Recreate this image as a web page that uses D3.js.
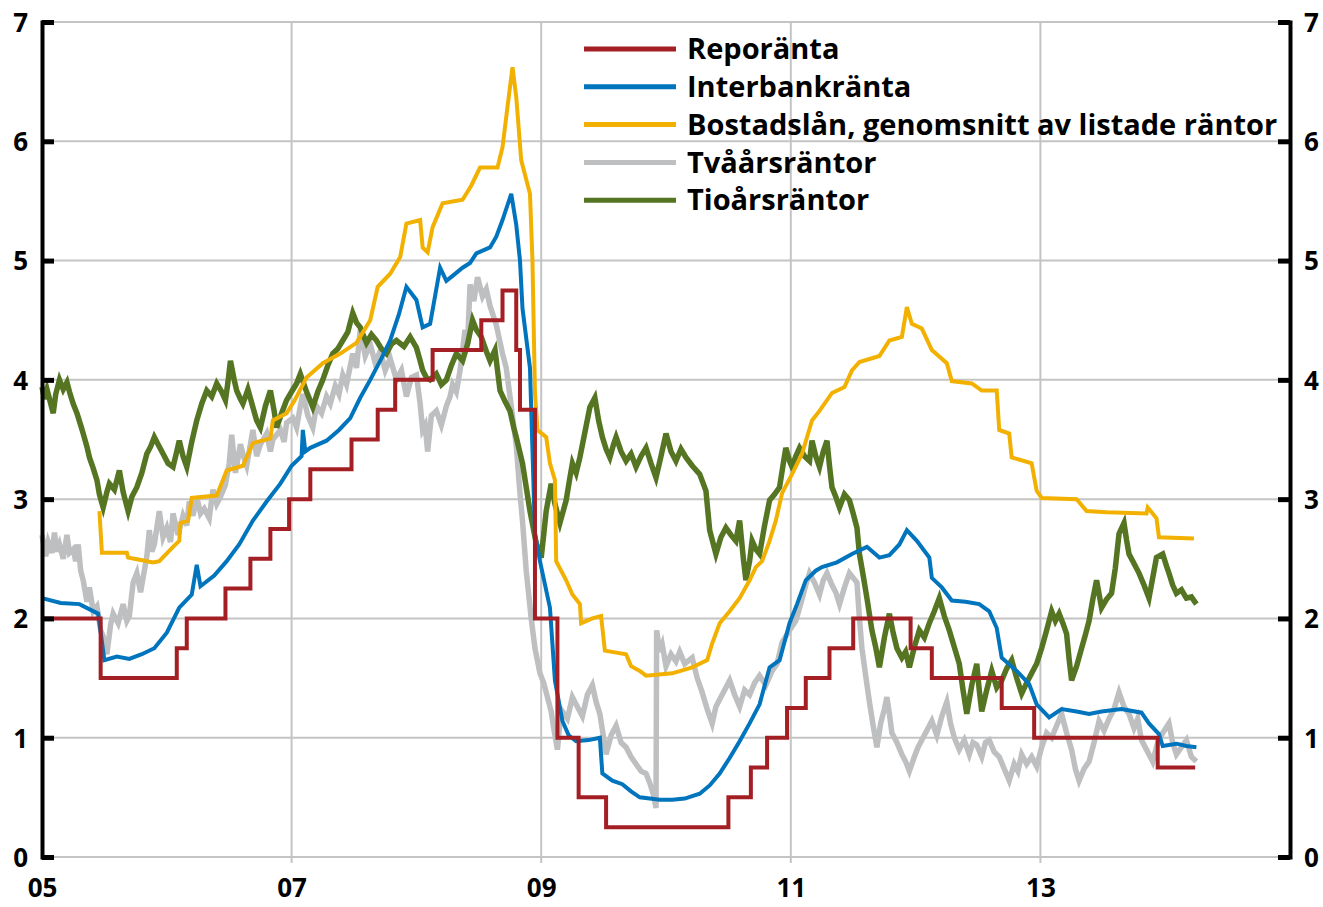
<!DOCTYPE html>
<html>
<head>
<meta charset="utf-8">
<script src="https://cdn.jsdelivr.net/npm/d3@7"></script>
<style>
  body { margin: 0; background: #fff; }
  svg text { font-family: "Open Sans", Lato, sans-serif; font-weight: 700; fill: #000; }
</style>
</head>
<body>
<div id="chart"></div>
<script>
// Series names (legend order)
const seriesNames = ['Reporänta', 'Interbankränta', 'Bostadslån, genomsnitt av listade räntor', 'Tvåårsräntor', 'Tioårsräntor'];
const seriesColors = ['#a41f24', '#0074bc', '#f2b100', '#bebfc1', '#557522'];

const yTicks = [0, 1, 2, 3, 4, 5, 6, 7];
const xTicks = [2005, 2007, 2009, 2011, 2013];

// Reporänta, step changes [decimal year, %]
const repo = [
  [2005.00, 2.00], [2005.47, 1.50], [2006.08, 1.75], [2006.16, 2.00], [2006.47, 2.25],
  [2006.67, 2.50], [2006.83, 2.75], [2006.98, 3.00], [2007.15, 3.25], [2007.48, 3.50],
  [2007.69, 3.75], [2007.83, 4.00], [2008.13, 4.25], [2008.52, 4.50], [2008.69, 4.75],
  [2008.80, 4.25], [2008.83, 3.75], [2008.95, 2.00], [2009.13, 1.00], [2009.30, 0.50],
  [2009.52, 0.25], [2010.50, 0.50], [2010.68, 0.75], [2010.81, 1.00], [2010.97, 1.25],
  [2011.12, 1.50], [2011.31, 1.75], [2011.50, 2.00], [2011.96, 1.75], [2012.13, 1.50],
  [2012.69, 1.25], [2012.95, 1.00], [2013.94, 0.75], [2014.24, 0.75]
];

// Interbankränta
const interbank = [
  [2005.00, 2.17], [2005.15, 2.13], [2005.30, 2.12], [2005.45, 2.04], [2005.50, 1.65],
  [2005.60, 1.68], [2005.70, 1.66], [2005.80, 1.70], [2005.90, 1.75], [2006.00, 1.88],
  [2006.10, 2.09], [2006.20, 2.20], [2006.24, 2.45], [2006.27, 2.27], [2006.38, 2.36],
  [2006.48, 2.48], [2006.58, 2.62], [2006.69, 2.82], [2006.80, 2.98], [2006.91, 3.13],
  [2007.00, 3.28], [2007.08, 3.36], [2007.09, 3.58], [2007.11, 3.40], [2007.15, 3.43],
  [2007.28, 3.49], [2007.38, 3.58], [2007.47, 3.68], [2007.55, 3.85], [2007.63, 4.00],
  [2007.72, 4.18], [2007.79, 4.33], [2007.86, 4.55], [2007.92, 4.78], [2008.00, 4.67],
  [2008.05, 4.44], [2008.11, 4.47], [2008.19, 4.94], [2008.24, 4.83], [2008.30, 4.88],
  [2008.37, 4.94], [2008.43, 4.98], [2008.48, 5.06], [2008.59, 5.11], [2008.64, 5.20],
  [2008.69, 5.34], [2008.76, 5.56], [2008.80, 5.30], [2008.83, 5.00], [2008.85, 4.60],
  [2008.91, 4.10], [2008.93, 3.41], [2008.95, 2.71], [2008.99, 2.48], [2009.07, 2.09],
  [2009.11, 1.48], [2009.17, 1.14], [2009.22, 1.02], [2009.28, 0.97], [2009.38, 0.98],
  [2009.47, 1.00], [2009.49, 0.70], [2009.57, 0.64], [2009.65, 0.61], [2009.72, 0.55],
  [2009.79, 0.50], [2009.87, 0.49], [2009.95, 0.48], [2010.05, 0.48], [2010.15, 0.49],
  [2010.27, 0.53], [2010.35, 0.60], [2010.43, 0.70], [2010.51, 0.83], [2010.59, 0.97],
  [2010.67, 1.12], [2010.75, 1.28], [2010.83, 1.59], [2010.91, 1.65], [2010.99, 1.96],
  [2011.05, 2.12], [2011.12, 2.32], [2011.20, 2.40], [2011.25, 2.43], [2011.37, 2.47],
  [2011.49, 2.54], [2011.61, 2.60], [2011.71, 2.51], [2011.79, 2.53], [2011.87, 2.62],
  [2011.93, 2.74], [2012.01, 2.65], [2012.11, 2.51], [2012.13, 2.34], [2012.21, 2.26],
  [2012.29, 2.15], [2012.40, 2.14], [2012.51, 2.12], [2012.59, 2.06], [2012.65, 1.92],
  [2012.69, 1.67], [2012.81, 1.56], [2012.91, 1.45], [2012.97, 1.28], [2013.07, 1.17],
  [2013.17, 1.24], [2013.29, 1.22], [2013.39, 1.20], [2013.49, 1.22], [2013.65, 1.24],
  [2013.81, 1.21], [2013.87, 1.12], [2013.95, 1.03], [2013.98, 0.93], [2014.09, 0.95],
  [2014.17, 0.93], [2014.25, 0.92]
];

// Bostadslån, genomsnitt av listade räntor
const bolan = [
  [2005.46, 2.90], [2005.48, 2.55], [2005.68, 2.55], [2005.69, 2.51], [2005.74, 2.50],
  [2005.89, 2.47], [2005.94, 2.48], [2006.05, 2.60], [2006.10, 2.65], [2006.11, 2.80],
  [2006.17, 2.82], [2006.20, 3.01], [2006.40, 3.03], [2006.48, 3.24], [2006.61, 3.28],
  [2006.69, 3.47], [2006.83, 3.51], [2006.85, 3.66], [2006.96, 3.72], [2007.02, 3.82],
  [2007.12, 4.02], [2007.25, 4.14], [2007.39, 4.22], [2007.52, 4.31], [2007.63, 4.50],
  [2007.69, 4.78], [2007.79, 4.89], [2007.87, 5.03], [2007.92, 5.31], [2008.03, 5.34],
  [2008.05, 5.11], [2008.09, 5.07], [2008.13, 5.28], [2008.21, 5.48], [2008.37, 5.51],
  [2008.44, 5.63], [2008.51, 5.78], [2008.65, 5.78], [2008.69, 5.95], [2008.73, 6.29],
  [2008.77, 6.62], [2008.80, 6.37], [2008.84, 5.84], [2008.91, 5.56], [2008.93, 5.00],
  [2008.95, 3.89], [2008.97, 3.58], [2009.04, 3.52], [2009.07, 3.30], [2009.11, 3.16],
  [2009.12, 2.48], [2009.20, 2.32], [2009.25, 2.20], [2009.31, 2.12], [2009.32, 1.96],
  [2009.41, 2.00], [2009.48, 2.02], [2009.51, 1.73], [2009.68, 1.70], [2009.72, 1.60],
  [2009.79, 1.56], [2009.84, 1.52], [2010.05, 1.54], [2010.21, 1.59], [2010.33, 1.65],
  [2010.37, 1.79], [2010.43, 1.96], [2010.51, 2.06], [2010.59, 2.17], [2010.67, 2.32],
  [2010.72, 2.43], [2010.77, 2.48], [2010.83, 2.65], [2010.88, 2.82], [2010.93, 3.05],
  [2011.01, 3.21], [2011.09, 3.38], [2011.17, 3.66], [2011.23, 3.74], [2011.33, 3.89],
  [2011.43, 3.94], [2011.49, 4.08], [2011.55, 4.15], [2011.71, 4.20], [2011.79, 4.33],
  [2011.89, 4.36], [2011.93, 4.61], [2011.97, 4.47], [2012.05, 4.43], [2012.13, 4.25],
  [2012.25, 4.14], [2012.29, 3.99], [2012.45, 3.97], [2012.53, 3.91], [2012.65, 3.91],
  [2012.67, 3.58], [2012.75, 3.55], [2012.77, 3.35], [2012.93, 3.30], [2012.97, 3.07],
  [2013.01, 3.01], [2013.29, 3.00], [2013.37, 2.90], [2013.53, 2.89], [2013.85, 2.88],
  [2013.86, 2.93], [2013.93, 2.84], [2013.95, 2.68], [2014.23, 2.67]
];

// Tvåårsräntor
const tvaar = [
  [2005.00, 2.70], [2005.03, 2.52], [2005.05, 2.64], [2005.08, 2.55], [2005.10, 2.72],
  [2005.12, 2.56], [2005.14, 2.62], [2005.17, 2.50], [2005.20, 2.70], [2005.22, 2.55],
  [2005.25, 2.58], [2005.27, 2.48], [2005.29, 2.62], [2005.31, 2.40], [2005.33, 2.32],
  [2005.36, 2.14], [2005.38, 2.26], [2005.41, 2.06], [2005.44, 2.10], [2005.47, 1.90],
  [2005.49, 1.85], [2005.52, 1.70], [2005.55, 1.95], [2005.57, 2.04], [2005.61, 1.96],
  [2005.65, 2.12], [2005.68, 1.98], [2005.70, 2.02], [2005.73, 2.30], [2005.76, 2.38],
  [2005.79, 2.22], [2005.81, 2.34], [2005.84, 2.52], [2005.86, 2.74], [2005.88, 2.56],
  [2005.90, 2.62], [2005.94, 2.90], [2005.97, 2.68], [2006.00, 2.76], [2006.03, 2.64],
  [2006.05, 2.88], [2006.09, 2.70], [2006.13, 2.86], [2006.16, 2.78], [2006.18, 2.98],
  [2006.21, 2.86], [2006.24, 3.02], [2006.27, 2.88], [2006.30, 2.92], [2006.34, 2.84],
  [2006.37, 3.08], [2006.40, 2.96], [2006.43, 3.02], [2006.47, 3.12], [2006.50, 3.30],
  [2006.52, 3.54], [2006.55, 3.22], [2006.59, 3.46], [2006.62, 3.34], [2006.64, 3.28],
  [2006.69, 3.58], [2006.72, 3.36], [2006.75, 3.46], [2006.80, 3.55], [2006.83, 3.40],
  [2006.85, 3.50], [2006.91, 3.58], [2006.94, 3.48], [2006.96, 3.64], [2007.01, 3.68],
  [2007.04, 3.60], [2007.07, 3.78], [2007.09, 3.88], [2007.13, 3.70], [2007.17, 3.60],
  [2007.20, 3.78], [2007.24, 3.72], [2007.28, 3.86], [2007.31, 3.80], [2007.35, 3.95],
  [2007.38, 3.88], [2007.41, 4.04], [2007.44, 3.96], [2007.49, 4.22], [2007.52, 4.10],
  [2007.55, 4.42], [2007.59, 4.20], [2007.63, 4.30], [2007.67, 4.14], [2007.71, 4.24],
  [2007.75, 4.08], [2007.79, 4.18], [2007.84, 4.00], [2007.88, 4.08], [2007.92, 3.86],
  [2007.96, 4.02], [2008.00, 4.04], [2008.03, 3.80], [2008.05, 3.58], [2008.07, 3.62],
  [2008.09, 3.40], [2008.12, 3.70], [2008.16, 3.74], [2008.20, 3.62], [2008.24, 3.78],
  [2008.27, 3.86], [2008.29, 3.96], [2008.32, 3.90], [2008.35, 4.08], [2008.39, 4.42],
  [2008.41, 4.30], [2008.43, 4.80], [2008.46, 4.66], [2008.49, 4.86], [2008.53, 4.70],
  [2008.56, 4.76], [2008.59, 4.62], [2008.64, 4.46], [2008.69, 4.22], [2008.72, 4.10],
  [2008.75, 3.86], [2008.80, 3.45], [2008.83, 3.05], [2008.85, 2.82], [2008.88, 2.40],
  [2008.92, 2.00], [2008.95, 1.75], [2008.99, 1.54], [2009.02, 1.46], [2009.05, 1.34],
  [2009.08, 1.22], [2009.10, 1.08], [2009.13, 0.90], [2009.15, 1.12], [2009.17, 1.22],
  [2009.21, 1.16], [2009.25, 1.34], [2009.29, 1.26], [2009.33, 1.18], [2009.37, 1.36],
  [2009.41, 1.44], [2009.44, 1.30], [2009.47, 1.20], [2009.50, 1.00], [2009.52, 0.86],
  [2009.56, 1.02], [2009.60, 1.10], [2009.64, 0.96], [2009.68, 0.92], [2009.72, 0.84],
  [2009.76, 0.78], [2009.80, 0.72], [2009.84, 0.70], [2009.87, 0.62], [2009.90, 0.52],
  [2009.92, 0.41], [2009.925, 1.90], [2009.95, 1.72], [2009.97, 1.78], [2010.00, 1.60],
  [2010.04, 1.70], [2010.08, 1.64], [2010.11, 1.72], [2010.15, 1.62], [2010.21, 1.67],
  [2010.25, 1.50], [2010.29, 1.38], [2010.33, 1.24], [2010.37, 1.12], [2010.40, 1.26],
  [2010.43, 1.32], [2010.47, 1.40], [2010.51, 1.48], [2010.55, 1.36], [2010.59, 1.26],
  [2010.63, 1.40], [2010.67, 1.36], [2010.71, 1.46], [2010.75, 1.52], [2010.80, 1.44],
  [2010.85, 1.56], [2010.89, 1.62], [2010.93, 1.80], [2010.99, 1.90], [2011.04, 1.98],
  [2011.09, 2.16], [2011.12, 2.28], [2011.15, 2.38], [2011.19, 2.30], [2011.23, 2.20],
  [2011.26, 2.32], [2011.29, 2.38], [2011.33, 2.28], [2011.36, 2.22], [2011.39, 2.12],
  [2011.43, 2.26], [2011.47, 2.38], [2011.50, 2.34], [2011.53, 2.30], [2011.55, 2.00],
  [2011.57, 1.75], [2011.60, 1.52], [2011.63, 1.30], [2011.66, 1.10], [2011.69, 0.92],
  [2011.72, 1.12], [2011.75, 1.24], [2011.77, 1.34], [2011.79, 1.20], [2011.81, 1.04],
  [2011.85, 0.96], [2011.89, 0.86], [2011.92, 0.80], [2011.95, 0.72], [2011.99, 0.84],
  [2012.02, 0.92], [2012.05, 0.98], [2012.09, 1.06], [2012.13, 1.14], [2012.17, 1.02],
  [2012.21, 1.18], [2012.25, 1.30], [2012.28, 1.12], [2012.31, 1.00], [2012.35, 0.90],
  [2012.39, 0.98], [2012.43, 0.86], [2012.46, 0.96], [2012.49, 0.94], [2012.53, 0.84],
  [2012.56, 0.96], [2012.59, 0.98], [2012.63, 0.88], [2012.67, 0.84], [2012.71, 0.74],
  [2012.75, 0.64], [2012.79, 0.78], [2012.82, 0.72], [2012.85, 0.86], [2012.89, 0.78],
  [2012.93, 0.84], [2012.97, 0.76], [2013.01, 0.92], [2013.05, 1.04], [2013.09, 1.00],
  [2013.13, 1.10], [2013.17, 1.20], [2013.21, 1.04], [2013.25, 0.90], [2013.28, 0.74],
  [2013.31, 0.64], [2013.35, 0.74], [2013.39, 0.80], [2013.43, 0.96], [2013.47, 1.14],
  [2013.51, 1.06], [2013.55, 1.16], [2013.59, 1.24], [2013.63, 1.38], [2013.67, 1.26],
  [2013.71, 1.20], [2013.75, 1.08], [2013.78, 1.16], [2013.81, 0.98], [2013.85, 0.90],
  [2013.90, 0.80], [2013.94, 0.96], [2013.98, 1.04], [2014.03, 1.12], [2014.06, 0.96],
  [2014.09, 0.86], [2014.13, 0.92], [2014.17, 0.98], [2014.21, 0.84], [2014.25, 0.80]
];

// Tioårsräntor
const tioar = [
  [2005.00, 3.94], [2005.02, 3.84], [2005.04, 3.92], [2005.07, 3.80], [2005.09, 3.72],
  [2005.11, 3.88], [2005.14, 4.00], [2005.17, 3.92], [2005.20, 3.98], [2005.22, 3.90],
  [2005.25, 3.80], [2005.28, 3.72], [2005.31, 3.62], [2005.33, 3.55], [2005.36, 3.44],
  [2005.38, 3.35], [2005.41, 3.26], [2005.44, 3.16], [2005.46, 3.04], [2005.49, 2.93],
  [2005.52, 3.06], [2005.54, 3.13], [2005.58, 3.08], [2005.62, 3.24], [2005.65, 3.06],
  [2005.69, 2.90], [2005.72, 3.02], [2005.76, 3.10], [2005.80, 3.22], [2005.84, 3.38],
  [2005.87, 3.44], [2005.90, 3.52], [2005.94, 3.44], [2005.97, 3.38], [2006.01, 3.30],
  [2006.05, 3.27], [2006.08, 3.40], [2006.10, 3.49], [2006.13, 3.36], [2006.16, 3.27],
  [2006.20, 3.48], [2006.24, 3.66], [2006.28, 3.80], [2006.32, 3.91], [2006.36, 3.86],
  [2006.40, 3.97], [2006.44, 3.90], [2006.47, 3.83], [2006.49, 3.98], [2006.51, 4.16],
  [2006.54, 4.00], [2006.56, 3.91], [2006.59, 3.84], [2006.61, 3.80], [2006.65, 3.92],
  [2006.69, 3.77], [2006.72, 3.66], [2006.75, 3.60], [2006.79, 3.78], [2006.83, 3.91],
  [2006.86, 3.74], [2006.88, 3.60], [2006.92, 3.72], [2006.96, 3.83], [2007.00, 3.90],
  [2007.04, 3.97], [2007.07, 4.05], [2007.12, 3.90], [2007.17, 3.77], [2007.21, 3.90],
  [2007.25, 4.00], [2007.29, 4.12], [2007.33, 4.22], [2007.37, 4.26], [2007.41, 4.33],
  [2007.45, 4.40], [2007.49, 4.56], [2007.52, 4.48], [2007.55, 4.44], [2007.58, 4.36],
  [2007.60, 4.31], [2007.64, 4.38], [2007.68, 4.33], [2007.72, 4.26], [2007.76, 4.22],
  [2007.80, 4.30], [2007.84, 4.33], [2007.90, 4.28], [2007.95, 4.36], [2008.00, 4.27],
  [2008.03, 4.16], [2008.05, 4.08], [2008.08, 4.02], [2008.11, 4.00], [2008.16, 4.05],
  [2008.20, 3.96], [2008.24, 4.00], [2008.28, 4.12], [2008.32, 4.22], [2008.37, 4.16],
  [2008.41, 4.30], [2008.45, 4.50], [2008.48, 4.42], [2008.52, 4.36], [2008.56, 4.24],
  [2008.59, 4.16], [2008.63, 4.25], [2008.67, 3.91], [2008.71, 3.82], [2008.75, 3.74],
  [2008.78, 3.60], [2008.80, 3.52], [2008.85, 3.30], [2008.88, 3.10], [2008.91, 2.90],
  [2008.96, 2.63], [2009.00, 2.51], [2009.02, 2.70], [2009.04, 2.90], [2009.08, 3.13],
  [2009.11, 2.96], [2009.15, 2.80], [2009.20, 2.99], [2009.23, 3.18], [2009.25, 3.30],
  [2009.28, 3.22], [2009.31, 3.35], [2009.35, 3.56], [2009.39, 3.77], [2009.43, 3.85],
  [2009.46, 3.66], [2009.49, 3.52], [2009.52, 3.42], [2009.55, 3.35], [2009.58, 3.46],
  [2009.60, 3.52], [2009.64, 3.40], [2009.68, 3.32], [2009.72, 3.38], [2009.76, 3.27],
  [2009.80, 3.36], [2009.84, 3.43], [2009.88, 3.30], [2009.92, 3.18], [2009.96, 3.36],
  [2010.00, 3.55], [2010.04, 3.40], [2010.08, 3.32], [2010.12, 3.42], [2010.16, 3.35],
  [2010.21, 3.28], [2010.27, 3.21], [2010.32, 3.07], [2010.35, 2.74], [2010.38, 2.62],
  [2010.40, 2.54], [2010.44, 2.68], [2010.48, 2.76], [2010.52, 2.70], [2010.56, 2.65],
  [2010.59, 2.82], [2010.62, 2.50], [2010.64, 2.32], [2010.67, 2.48], [2010.69, 2.65],
  [2010.72, 2.58], [2010.75, 2.54], [2010.79, 2.78], [2010.83, 2.99], [2010.87, 3.04],
  [2010.91, 3.10], [2010.94, 3.30], [2010.96, 3.43], [2010.99, 3.32], [2011.01, 3.27],
  [2011.04, 3.36], [2011.07, 3.43], [2011.11, 3.36], [2011.15, 3.32], [2011.17, 3.49],
  [2011.20, 3.36], [2011.23, 3.27], [2011.26, 3.40], [2011.29, 3.49], [2011.31, 3.28],
  [2011.33, 3.10], [2011.36, 3.02], [2011.39, 2.93], [2011.43, 3.04], [2011.47, 2.99],
  [2011.50, 2.88], [2011.53, 2.76], [2011.55, 2.54], [2011.58, 2.36], [2011.61, 2.17],
  [2011.65, 1.90], [2011.68, 1.76], [2011.71, 1.59], [2011.75, 1.84], [2011.79, 2.04],
  [2011.82, 1.88], [2011.85, 1.75], [2011.89, 1.67], [2011.92, 1.72], [2011.95, 1.59],
  [2011.99, 1.76], [2012.03, 1.90], [2012.07, 1.84], [2012.11, 1.96], [2012.15, 2.06],
  [2012.19, 2.17], [2012.23, 2.02], [2012.27, 1.90], [2012.31, 1.76], [2012.35, 1.62],
  [2012.38, 1.40], [2012.41, 1.20], [2012.45, 1.44], [2012.49, 1.62], [2012.51, 1.40],
  [2012.53, 1.22], [2012.57, 1.40], [2012.61, 1.56], [2012.65, 1.42], [2012.69, 1.48],
  [2012.73, 1.58], [2012.77, 1.65], [2012.81, 1.50], [2012.85, 1.37], [2012.89, 1.46],
  [2012.93, 1.54], [2012.97, 1.62], [2013.01, 1.75], [2013.05, 1.90], [2013.09, 2.06],
  [2013.12, 1.98], [2013.15, 2.04], [2013.18, 1.96], [2013.21, 1.87], [2013.23, 1.66],
  [2013.25, 1.48], [2013.29, 1.60], [2013.33, 1.75], [2013.36, 1.86], [2013.39, 1.98],
  [2013.42, 2.16], [2013.45, 2.32], [2013.49, 2.09], [2013.53, 2.16], [2013.57, 2.21],
  [2013.60, 2.42], [2013.63, 2.71], [2013.67, 2.80], [2013.69, 2.66], [2013.71, 2.54],
  [2013.75, 2.46], [2013.79, 2.38], [2013.83, 2.28], [2013.87, 2.17], [2013.90, 2.34],
  [2013.93, 2.51], [2013.98, 2.54], [2014.01, 2.44], [2014.03, 2.38], [2014.06, 2.28],
  [2014.09, 2.21], [2014.13, 2.24], [2014.17, 2.17], [2014.21, 2.18], [2014.25, 2.12]
];

const width = 1323, height = 907;
const margin = {top: 22, left: 42, right: 33, bottom: 50};

const svg = d3.select('#chart').append('svg')
  .attr('width', width)
  .attr('height', height);

const x = d3.scaleLinear().domain([2005, 2015]).range([margin.left, width - margin.right]);
const y = d3.scaleLinear().domain([0, 7]).range([height - margin.bottom, margin.top]);

// Gridlines
svg.append('g')
  .selectAll('line')
  .data(yTicks)
  .enter().append('line')
    .attr('x1', x(2005)).attr('x2', x(2015))
    .attr('y1', d => y(d)).attr('y2', d => y(d))
    .attr('stroke', '#c4c4c4').attr('stroke-width', 2);

svg.append('g')
  .selectAll('line')
  .data(xTicks.slice(1))
  .enter().append('line')
    .attr('x1', d => x(d)).attr('x2', d => x(d))
    .attr('y1', y(7)).attr('y2', y(0) + 6)
    .attr('stroke', '#c4c4c4').attr('stroke-width', 2);

// Lines
const line = d3.line().x(d => x(d[0])).y(d => y(d[1]));
const stepLine = d3.line().x(d => x(d[0])).y(d => y(d[1])).curve(d3.curveStepAfter);

const plotted = [
  {data: tvaar, color: seriesColors[3], width: 5.5, gen: line},
  {data: tioar, color: seriesColors[4], width: 5.5, gen: line},
  {data: bolan, color: seriesColors[2], width: 4, gen: line},
  {data: interbank, color: seriesColors[1], width: 4, gen: line},
  {data: repo, color: seriesColors[0], width: 4, gen: stepLine}
];

svg.append('g')
  .selectAll('path')
  .data(plotted)
  .enter().append('path')
    .attr('d', d => d.gen(d.data))
    .attr('fill', 'none')
    .attr('stroke', d => d.color)
    .attr('stroke-width', d => d.width)
    .attr('stroke-linejoin', 'miter');

// Y axes
const leftAxis = svg.append('g')
  .attr('transform', 'translate(' + x(2005) + ',0)')
  .call(d3.axisLeft(y).tickValues(yTicks).tickSize(-12).tickPadding(14).tickFormat(d3.format('d')));
const rightAxis = svg.append('g')
  .attr('transform', 'translate(' + x(2015) + ',0)')
  .call(d3.axisRight(y).tickValues(yTicks).tickSize(-12).tickPadding(14).tickFormat(d3.format('d')));

[leftAxis, rightAxis].forEach(a => {
  a.select('.domain').attr('stroke', '#000').attr('stroke-width', 4);
  a.selectAll('.tick line').attr('stroke', '#000').attr('stroke-width', 5);
  a.selectAll('.tick text')
    .style('font-size', '26px')
    .attr('dy', '0.36em');
});

// X axis labels
svg.append('g')
  .attr('transform', 'translate(0,' + y(0) + ')')
  .call(d3.axisBottom(x).tickValues(xTicks).tickSize(0).tickPadding(22)
    .tickFormat(d => String(d).slice(2)))
  .call(g => g.select('.domain').remove())
  .selectAll('text')
    .style('font-size', '26px');

// Legend
const legend = svg.append('g')
  .attr('transform', 'translate(584,49)')
  .selectAll('g')
  .data(seriesNames)
  .enter().append('g')
    .attr('transform', (d, i) => 'translate(0,' + (i * 37.8) + ')');

legend.append('line')
  .attr('x1', 0).attr('x2', 92)
  .attr('stroke', (d, i) => seriesColors[i])
  .attr('stroke-width', 5);

legend.append('text')
  .attr('x', 103)
  .attr('dy', '0.35em')
  .style('font-size', '29px')
  .text(d => d);
</script>
</body>
</html>
